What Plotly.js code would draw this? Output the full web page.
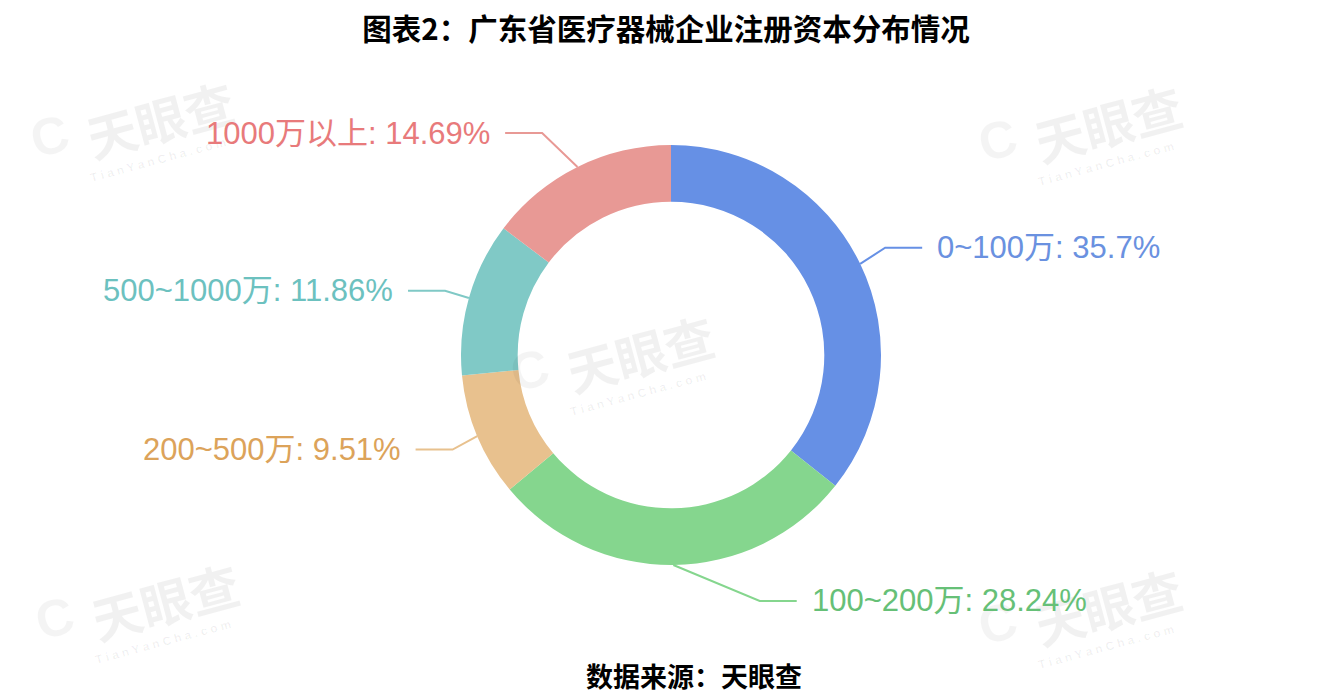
<!DOCTYPE html>
<html>
<head>
<meta charset="utf-8">
<script src="https://cdn.plot.ly/plotly-3.0.1.min.js"></script>
<style>
  html, body { margin: 0; padding: 0; background: #ffffff; }
  #chart { width: 1337px; height: 700px; }
</style>
</head>
<body>
<div id="chart"></div>
<script>
// ---- data ----
const categories = ["0~100万", "100~200万", "200~500万", "500~1000万", "1000万以上"];
const shares = [35.7, 28.24, 9.51, 11.86, 14.69];
const sliceColors = ["#6690e5", "#85d68e", "#e8c18e", "#80c9c6", "#e89995"];
const textColors = ["#6a91e0", "#66c077", "#dca35a", "#6cc1bf", "#e87a7b"];
const titleText = "图表2：广东省医疗器械企业注册资本分布情况";
const sourceText = "数据来源：天眼查";

// ---- layout config (pixels) ----
const W = 1337, H = 700;
const CX = 671, CY = 355, R = 210, HOLE = 0.73;
const L1 = 30, L2 = 37, GAP = 13;
// per-label elbow adjustments (label overlap avoidance as in the reference)
const elbowShift = [[-2, -3], [86, 6], [3, 2], [5, 1], [-22, -7]];

const px = x => x / W;
const py = y => 1 - y / H;

const total = shares.reduce((a, b) => a + b, 0);
const shapes = [];
const annotations = [];

// watermarks (drawn first, underneath)
const wm = [[160, 118], [1108, 122], [640, 352], [165, 600], [1108, 605]];
wm.forEach(([x, y]) => {
  annotations.push({
    xref: "paper", yref: "paper", x: px(x), y: py(y), showarrow: false,
    xanchor: "center", yanchor: "middle",
    text: "<b>天眼查</b>", textangle: -15,
    font: { family: "Noto Sans CJK SC", size: 50, color: "rgba(0,0,0,0.055)" }
  });
  annotations.push({
    xref: "paper", yref: "paper", x: px(x - 2), y: py(y + 42), showarrow: false,
    xanchor: "center", yanchor: "middle",
    text: "<b>T i a n Y a n C h a . c o m</b>", textangle: -15,
    font: { family: "Liberation Sans", size: 12, color: "rgba(0,0,0,0.06)" }
  });
  annotations.push({
    xref: "paper", yref: "paper", x: px(x - 110), y: py(y + 18), showarrow: false,
    xanchor: "center", yanchor: "middle",
    text: "<b>C</b>", textangle: -15,
    font: { family: "Liberation Sans", size: 52, color: "rgba(0,0,0,0.045)" }
  });
});

let cum = 0;
shares.forEach((v, i) => {
  const mid = (cum + v / 2) / total * 2 * Math.PI;
  cum += v;
  const dx = Math.sin(mid), dy = -Math.cos(mid);
  const ex = CX + R * dx, ey = CY + R * dy;
  const bx = ex + L1 * dx + elbowShift[i][0], by = ey + L1 * dy + elbowShift[i][1];
  const side = dx >= 0 ? 1 : -1;
  const hx = bx + side * L2;
  shapes.push({
    type: "path", xref: "paper", yref: "paper",
    path: `M ${px(ex)},${py(ey)} L ${px(bx)},${py(by)} L ${px(hx)},${py(by)}`,
    line: { color: sliceColors[i], width: 2 }
  });
  annotations.push({
    xref: "paper", yref: "paper",
    x: px(hx + side * GAP), y: py(by),
    xanchor: side > 0 ? "left" : "right", yanchor: "middle",
    text: categories[i] + ": " + shares[i] + "%",
    showarrow: false,
    font: { family: "Liberation Sans, Arial, Noto Sans CJK SC", size: 31, color: textColors[i] }
  });
});

// source footer
annotations.push({
  xref: "paper", yref: "paper", x: px(694), y: py(675), showarrow: false,
  xanchor: "center", yanchor: "middle",
  text: "<b>" + sourceText + "</b>",
  font: { family: "Noto Sans CJK SC", size: 27, color: "#000000" }
});

const trace = {
  type: "pie",
  labels: categories,
  values: shares,
  hole: HOLE,
  sort: false,
  direction: "clockwise",
  rotation: 0,
  textinfo: "none",
  marker: { colors: sliceColors, line: { width: 0 } },
  domain: { x: [px(CX - R), px(CX + R)], y: [py(CY + R), py(CY - R)] },
  showlegend: false
};

const layout = {
  width: W, height: H,
  margin: { l: 0, r: 0, t: 0, b: 0 },
  paper_bgcolor: "#ffffff",
  title: {
    text: "<b>" + titleText + "</b>",
    x: px(666), xanchor: "center",
    y: py(30), yanchor: "middle", yref: "paper",
    font: { family: "Noto Sans CJK SC", size: 29.5, color: "#000000" }
  },
  shapes: shapes,
  annotations: annotations,
  showlegend: false
};

Plotly.newPlot("chart", [trace], layout, { displayModeBar: false, staticPlot: true });
</script>
</body>
</html>
